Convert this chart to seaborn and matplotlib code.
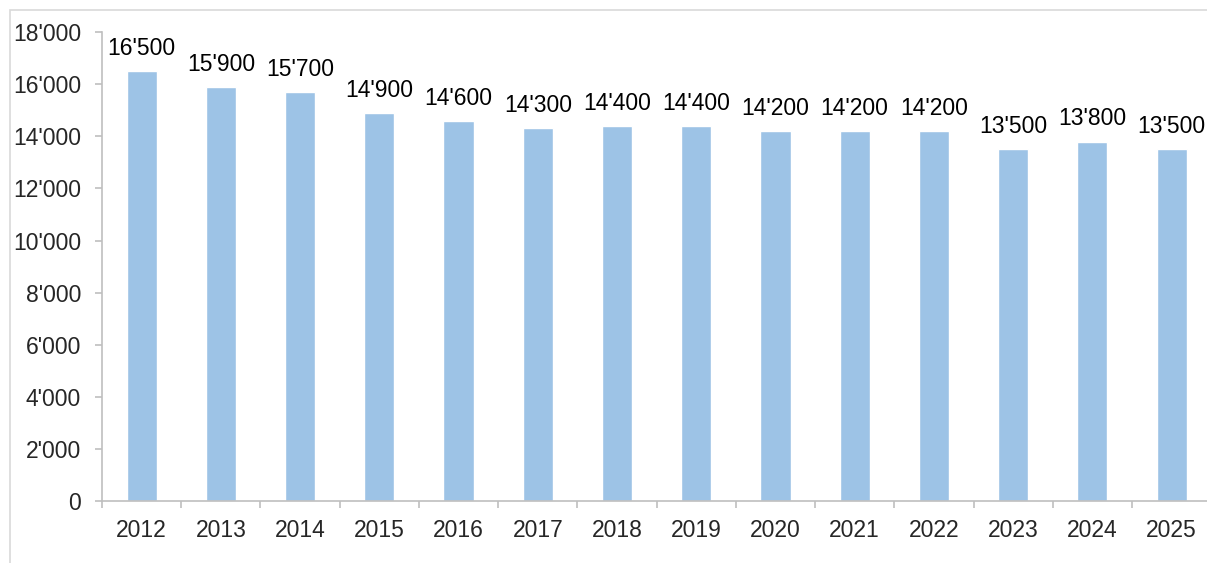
import pandas as pd
import seaborn as sns
import matplotlib.pyplot as plt
from matplotlib.patches import Rectangle
from matplotlib.ticker import FuncFormatter, FixedLocator

# Values
years = ['2012', '2013', '2014', '2015', '2016', '2017', '2018',
         '2019', '2020', '2021', '2022', '2023', '2024', '2025']
values = [16500, 15900, 15700, 14900, 14600, 14300, 14400,
          14400, 14200, 14200, 14200, 13500, 13800, 13500]

df = pd.DataFrame({'Year': years, 'Value': values})

sns.set_style('white')
plt.rcParams['font.family'] = ['Liberation Sans', 'DejaVu Sans']

fig = plt.figure(figsize=(12.07, 5.63), dpi=100)
ax = fig.add_axes([0.0845, 0.110, 0.919, 0.833])

sns.barplot(data=df, x='Year', y='Value', color='#9DC3E6', width=0.38,
            saturation=1, ax=ax)

def apostrophe(v, pos=None):
    return f"{int(v):,}".replace(',', "'")

ax.bar_label(ax.containers[0], labels=[apostrophe(v) for v in values],
             padding=8, fontsize=16.5, color='black')

ax.set_ylim(0, 18000)
ax.set_yticks(range(0, 18001, 2000))
ax.yaxis.set_major_formatter(FuncFormatter(apostrophe))
ax.set_xlim(-0.5, len(years) - 0.5)
ax.set_xlabel('')
ax.set_ylabel('')

# ticks between categories on x
ax.xaxis.set_minor_locator(FixedLocator([i - 0.5 for i in range(len(years) + 1)]))
ax.tick_params(axis='x', which='major', length=0, pad=13, labelsize=16.5)
ax.tick_params(axis='x', which='minor', length=5, width=1.2, color='#BFBFBF', bottom=True)
ax.tick_params(axis='y', which='major', length=5, width=1.2, color='#BFBFBF', left=True,
               pad=10, labelsize=16.5)

for side in ['top', 'right']:
    ax.spines[side].set_visible(False)
for side in ['left', 'bottom']:
    ax.spines[side].set_color('#BFBFBF')
    ax.spines[side].set_linewidth(1.2)

# chart area border (cut off at right and bottom)
fig.patches.append(Rectangle((10 / 1207, -0.1), 1.2, 1 - 10 / 563 + 0.1,
                             transform=fig.transFigure, fill=False,
                             edgecolor='#D9D9D9', linewidth=1.2))

fig.savefig('out.png', dpi=100)
